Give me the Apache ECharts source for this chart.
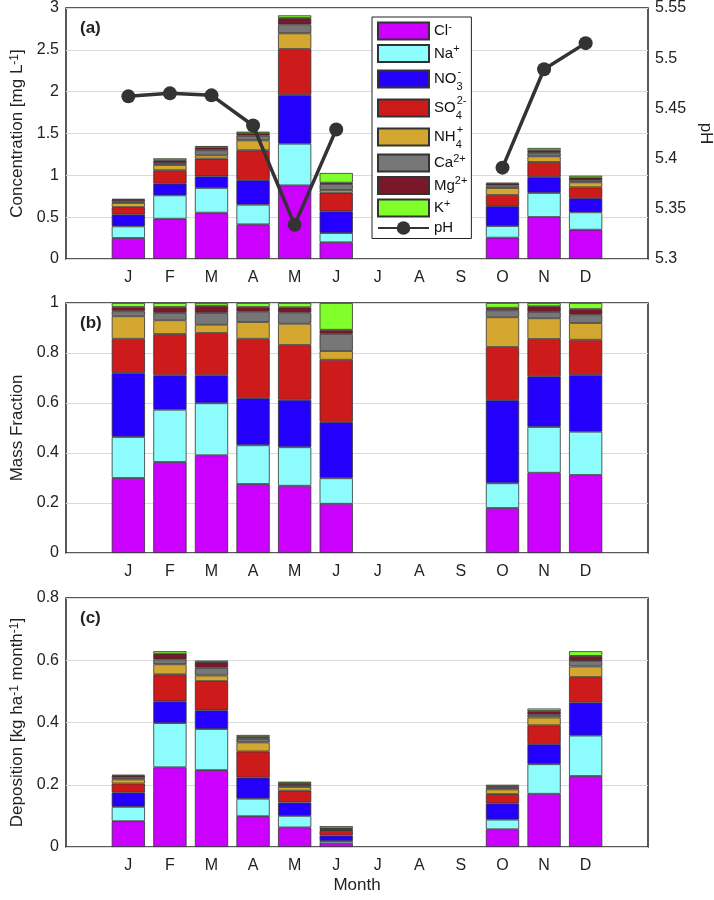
<!DOCTYPE html>
<html>
<head>
<meta charset="utf-8">
<script src="https://cdn.jsdelivr.net/npm/echarts@6/dist/echarts.min.js"></script>
<style>html,body{margin:0;padding:0;background:#fff}#c{width:714px;height:900px}</style>
</head>
<body>
<div id="c"></div>
<script>
// ---- data (Jan..Dec; Jul-Sep missing) ----
const months = ['J','F','M','A','M','J','J','A','S','O','N','D'];
const n = null;
// (a) concentration, mg/L
const concCl  = [0.251,0.482,0.554,0.414,0.880,0.200,n,n,n,0.255,0.502,0.350];
const concNa  = [0.139,0.279,0.295,0.235,0.498,0.110,n,n,n,0.139,0.287,0.208];
const concNO3 = [0.140,0.139,0.139,0.295,0.582,0.260,n,n,n,0.239,0.191,0.171];
const concSO4 = [0.090,0.160,0.212,0.355,0.550,0.223,n,n,n,0.132,0.179,0.128];
const concNH4 = [0.050,0.064,0.040,0.119,0.187,0.032,n,n,n,0.084,0.068,0.059];
const concCa  = [0.020,0.023,0.060,0.056,0.108,0.071,n,n,n,0.031,0.040,0.024];
const concMg  = [0.020,0.033,0.035,0.028,0.075,0.016,n,n,n,0.020,0.033,0.032];
const concK   = [0.007,0.023,0.015,0.020,0.032,0.116,n,n,n,0.012,0.027,0.024];
const pH      = [5.462,5.465,5.463,5.433,5.334,5.429,n,n,n,5.391,5.489,5.515];
// (b) mass fraction
const fracCl  = [0.300,0.364,0.391,0.276,0.269,0.197,n,n,n,0.180,0.321,0.312];
const fracNa  = [0.164,0.209,0.208,0.155,0.154,0.102,n,n,n,0.099,0.183,0.173];
const fracNO3 = [0.256,0.138,0.112,0.189,0.190,0.225,n,n,n,0.333,0.203,0.227];
const fracSO4 = [0.137,0.165,0.169,0.237,0.219,0.249,n,n,n,0.212,0.149,0.141];
const fracNH4 = [0.090,0.055,0.033,0.067,0.085,0.035,n,n,n,0.119,0.083,0.067];
const fracCa  = [0.020,0.029,0.047,0.041,0.044,0.068,n,n,n,0.028,0.025,0.033];
const fracMg  = [0.017,0.024,0.029,0.019,0.022,0.017,n,n,n,0.010,0.023,0.023];
const fracK   = [0.016,0.016,0.011,0.016,0.017,0.107,n,n,n,0.019,0.013,0.024];
// (c) deposition, kg/ha/month
const depCl  = [0.083,0.256,0.247,0.099,0.063,0.012,n,n,n,0.057,0.171,0.228];
const depNa  = [0.046,0.142,0.132,0.056,0.037,0.007,n,n,n,0.031,0.095,0.130];
const depNO3 = [0.046,0.070,0.060,0.068,0.043,0.018,n,n,n,0.052,0.065,0.106];
const depSO4 = [0.029,0.087,0.094,0.084,0.038,0.015,n,n,n,0.030,0.060,0.082];
const depNH4 = [0.013,0.032,0.018,0.029,0.012,0.002,n,n,n,0.015,0.025,0.034];
const depCa  = [0.006,0.016,0.025,0.012,0.006,0.004,n,n,n,0.006,0.009,0.018];
const depMg  = [0.006,0.018,0.018,0.006,0.006,0.002,n,n,n,0.004,0.012,0.016];
const depK   = [0.003,0.008,0.005,0.006,0.005,0.007,n,n,n,0.005,0.008,0.015];

const ionNames = ['Cl-','Na+','NO3-','SO42-','NH4+','Ca2+','Mg2+','K+'];
const ionColors = ['#cc00ff','#8cfcfc','#2400fc','#cd1a1a','#d4a830','#777777','#7a1728','#80ff2a'];
const concData = [concCl,concNa,concNO3,concSO4,concNH4,concCa,concMg,concK];
const fracData = [fracCl,fracNa,fracNO3,fracSO4,fracNH4,fracCa,fracMg,fracK];
const depData  = [depCl,depNa,depNO3,depSO4,depNH4,depCa,depMg,depK];

// ---- build chart ----
const FONT = 'Liberation Sans, Arial, Helvetica, sans-serif';
const pad = a => [null, ...a, null];
const cats = Array.from({length: months.length + 2}, (_, i) => String(i));
const catLabel = (v, i) => (i >= 1 && i <= months.length) ? months[i - 1] : '';

const gridBase = {left: 66, width: 582, show: true, borderColor: '#222', borderWidth: 1.5,
  backgroundColor: '#fff', containLabel: false, outerBoundsMode: 'none'};
const grids = [
  Object.assign({top: 8, height: 251}, gridBase),
  Object.assign({top: 303, height: 250}, gridBase),
  Object.assign({top: 598, height: 249}, gridBase)
];

const xAxes = [0,1,2].map(g => ({
  type: 'category', gridIndex: g, data: cats,
  axisLine: {show: false}, axisTick: {show: false},
  axisLabel: {interval: 0, formatter: catLabel, fontSize: 16, color: '#222', fontFamily: FONT, margin: 11},
  name: g === 2 ? 'Month' : '', nameLocation: 'middle', nameGap: 30,
  nameTextStyle: {fontSize: 17, color: '#222', fontFamily: FONT}
}));

const yCommon = {
  type: 'value', axisLine: {show: false}, axisTick: {show: false},
  splitLine: {show: true, lineStyle: {color: '#dadada', width: 1}},
  axisLabel: {fontSize: 16, color: '#222', fontFamily: FONT, margin: 7},
  nameLocation: 'middle', nameRotate: 90,
  nameTextStyle: {fontSize: 17, color: '#222', fontFamily: FONT,
    rich: {sup: {fontSize: 12, verticalAlign: 'top', lineHeight: 10, fontFamily: FONT, color: '#222'}}}
};
const yAxes = [
  Object.assign({}, yCommon, {gridIndex: 0, min: 0, max: 3, interval: 0.5, name: 'Concentration [mg L{sup|-1}]', nameGap: 40}),
  {gridIndex: 0, type: 'value', position: 'right', min: 5.3, max: 5.55, interval: 0.05,
   axisLine: {show: false}, axisTick: {show: false}, splitLine: {show: false},
   axisLabel: {fontSize: 16, color: '#222', fontFamily: FONT, margin: 7, formatter: v => String(+v.toFixed(2))},
   name: 'pH', nameLocation: 'middle', nameRotate: -90, nameGap: 48,
   nameTextStyle: {fontSize: 17, color: '#222', fontFamily: FONT}},
  Object.assign({}, yCommon, {gridIndex: 1, min: 0, max: 1, interval: 0.2, name: 'Mass Fraction', nameGap: 40}),
  Object.assign({}, yCommon, {gridIndex: 2, min: 0, max: 0.8, interval: 0.2, name: 'Deposition [kg ha{sup|-1} month{sup|-1}]', nameGap: 40})
];

const series = [];
const panels = [[concData, 0, 0], [fracData, 1, 2], [depData, 2, 3]];
panels.forEach(([dataSet, g, yi]) => {
  dataSet.forEach((arr, k) => {
    series.push({
      type: 'bar', name: ionNames[k], stack: 'p' + g, xAxisIndex: g, yAxisIndex: yi,
      barWidth: '80%', data: pad(arr),
      itemStyle: {color: ionColors[k], borderColor: '#333', borderWidth: 0.8},
      emphasis: {disabled: true}, animation: false
    });
  });
});
series.push({
  type: 'line', name: 'pH', xAxisIndex: 0, yAxisIndex: 1, data: pad(pH),
  symbol: 'circle', symbolSize: 14, connectNulls: false, z: 10,
  itemStyle: {color: '#333'}, lineStyle: {color: '#333', width: 3.5},
  animation: false
});

const legendFmt = {
  'Cl-': '{a|Cl}{p|-}', 'Na+': '{a|Na}{p|+}', 'NO3-': '{c|NO}{s|3}{p|-}', 'SO42-': '{c|SO}{s|4}{p|2-}',
  'NH4+': '{c|NH}{s|4}{p|+}', 'Ca2+': '{a|Ca}{p|2+}', 'Mg2+': '{a|Mg}{p|2+}', 'K+': '{a|K}{p|+}', 'pH': '{d|pH}'
};

const option = {
  backgroundColor: '#fff',
  animation: false,
  title: [
    {text: '(a)', left: 75, top: 15},
    {text: '(b)', left: 75, top: 310},
    {text: '(c)', left: 75, top: 605}
  ].map(t => Object.assign(t, {textStyle: {fontSize: 17, fontWeight: 'bold', color: '#222', fontFamily: FONT}})),
  grid: grids,
  xAxis: xAxes,
  yAxis: yAxes,
  legend: {
    data: [...ionNames.map(nm => ({name: nm, icon: 'rect'})), {name: 'pH'}],
    orient: 'vertical', left: 372, top: 17, align: 'left',
    itemWidth: 51, itemHeight: 17, itemGap: 3, padding: [4, 4, 3, 5],
    backgroundColor: '#fff', borderColor: '#222', borderWidth: 1, selectedMode: false,
    formatter: name => legendFmt[name],
    textStyle: {color: '#111', fontFamily: FONT, fontSize: 15,
      rich: {
        a: {fontSize: 15, lineHeight: 20, fontFamily: FONT, color: '#111'},
        c: {fontSize: 15, lineHeight: 26, fontFamily: FONT, color: '#111'},
        d: {fontSize: 15, lineHeight: 16, fontFamily: FONT, color: '#111'},
        p: {fontSize: 11, lineHeight: 10, verticalAlign: 'top', fontFamily: FONT, color: '#111'},
        s: {fontSize: 11, lineHeight: 10, width: 1, verticalAlign: 'bottom', fontFamily: FONT, color: '#111'}
      }}
  },
  series: series
};
const chart = echarts.init(document.getElementById('c'), null, {renderer: 'canvas'});
chart.setOption(option);
</script>
</body>
</html>
